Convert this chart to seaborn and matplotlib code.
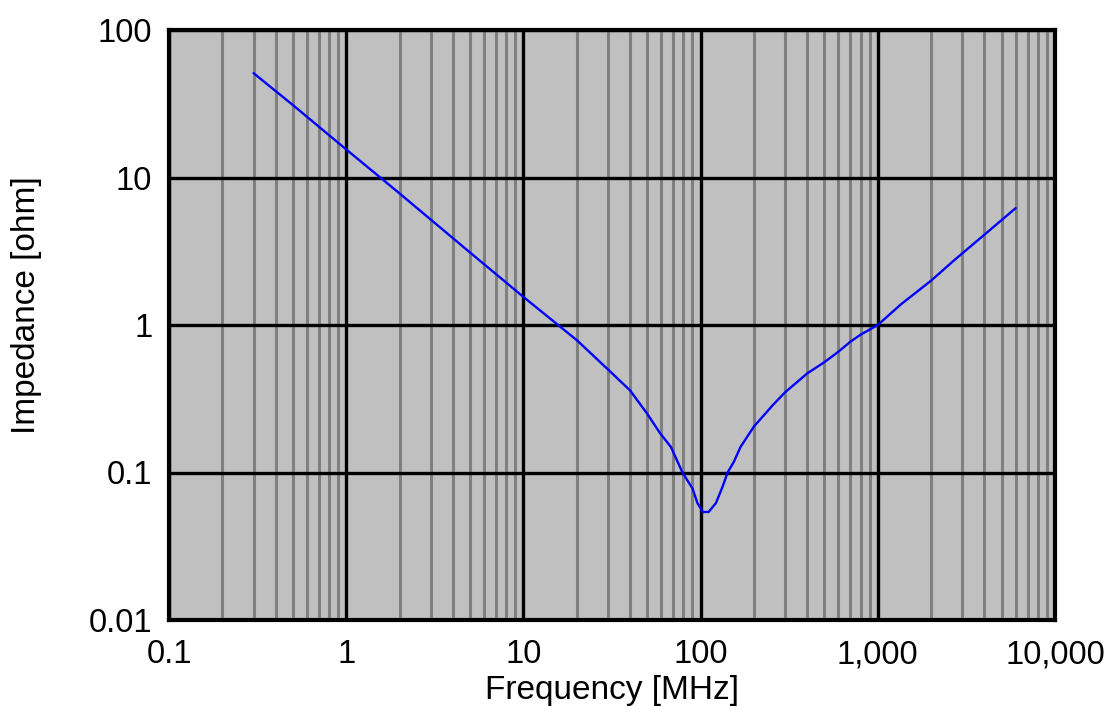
import numpy as np
import pandas as pd
import matplotlib
matplotlib.use("Agg")
import matplotlib.pyplot as plt
import seaborn as sns
from matplotlib.ticker import FixedLocator, FixedFormatter, NullFormatter

freq_mhz = [0.3, 0.5, 1, 2, 5, 10, 20, 30, 40, 50, 59, 68, 79, 90, 96, 103, 111,
            122, 133, 142, 154, 168, 200, 258, 300, 400, 500, 600, 700, 800, 1000,
            1350, 2000, 2700, 4000, 6000]
impedance_ohm = [51, 31, 15.5, 7.8, 3.1, 1.55, 0.79, 0.50, 0.36, 0.25, 0.185, 0.149,
                 0.1, 0.078, 0.062, 0.054, 0.054, 0.062, 0.080, 0.1, 0.118, 0.149,
                 0.205, 0.29, 0.35, 0.47, 0.56, 0.66, 0.77, 0.86, 1.0, 1.38, 2.0,
                 2.75, 4.1, 6.2]

x_ticks = [0.1, 1, 10, 100, 1000, 10000]
x_tick_labels = ["0.1", "1", "10", "100", "1,000", "10,000"]
y_ticks = [0.01, 0.1, 1, 10, 100]
y_tick_labels = ["0.01", "0.1", "1", "10", "100"]

df = pd.DataFrame({"Frequency": freq_mhz, "Impedance": impedance_ohm})

sns.set_style("white")
plt.rcParams["font.family"] = ["Liberation Sans", "DejaVu Sans"]

fig = plt.figure(figsize=(11.05, 7.06), dpi=100)
ax = fig.add_axes([169 / 1105, 86 / 706, 886 / 1105, 590 / 706])
ax.set_facecolor("#c0c0c0")

ax.set_xscale("log")
ax.set_yscale("log")
ax.set_xlim(0.1, 10000)
ax.set_ylim(0.01, 100)

minor_x = [m * 10.0 ** d for d in range(-1, 4) for m in range(2, 10)]
ax.xaxis.set_minor_locator(FixedLocator(minor_x))
ax.xaxis.set_minor_formatter(NullFormatter())
ax.yaxis.set_minor_locator(FixedLocator([]))
ax.xaxis.set_major_locator(FixedLocator(x_ticks))
ax.xaxis.set_major_formatter(FixedFormatter(x_tick_labels))
ax.yaxis.set_major_locator(FixedLocator(y_ticks))
ax.yaxis.set_major_formatter(FixedFormatter(y_tick_labels))

ax.grid(True, which="minor", axis="x", color="#808080", linewidth=2.2)
ax.grid(True, which="major", axis="both", color="black", linewidth=2.4)
ax.set_axisbelow(True)

sns.lineplot(data=df, x="Frequency", y="Impedance", ax=ax, color="#0000ff",
             linewidth=1.7, zorder=3)

for s in ax.spines.values():
    s.set_color("black")
    s.set_linewidth(3)
    s.set_visible(True)

ax.tick_params(axis="both", which="both", length=0, labelsize=23.5, colors="black")
ax.tick_params(axis="x", pad=14)
ax.tick_params(axis="y", pad=12)
ax.set_xlabel("Frequency [MHz]", fontsize=24, labelpad=3, color="black")
ax.set_ylabel("Impedance [ohm]", fontsize=24, color="black")
ax.yaxis.set_label_coords(-0.143, 0.534)

fig.savefig("out.png", dpi=100)
